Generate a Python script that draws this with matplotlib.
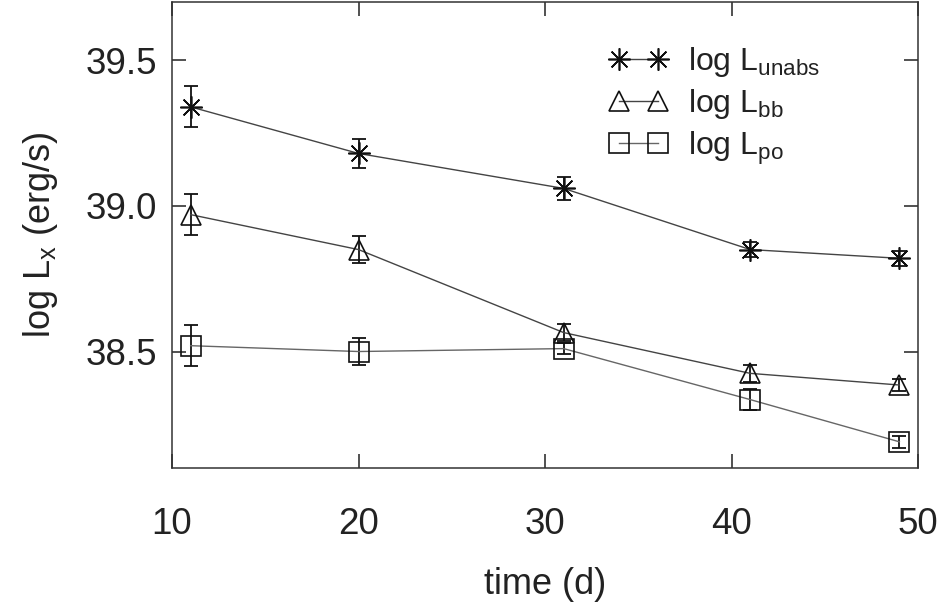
import numpy as np
import matplotlib
matplotlib.use("Agg")
import matplotlib.pyplot as plt

plt.rcParams['font.family'] = ['Liberation Sans', 'DejaVu Sans']
plt.rcParams['mathtext.default'] = 'regular'

# luminosity evolution (log L in erg/s) vs time since outburst
t = [11, 20, 31, 41, 49]
l_unabs = [39.34, 39.18, 39.06, 38.85, 38.82]
e_unabs = [0.07, 0.05, 0.04, 0.025, 0.025]
l_bb = [38.97, 38.85, 38.565, 38.425, 38.385]
e_bb = [0.07, 0.045, 0.03, 0.03, 0.02]
l_po = [38.52, 38.50, 38.51, 38.335, 38.19]
e_po = [0.07, 0.045, 0.02, 0.035, 0.02]

fig = plt.figure(figsize=(9.44, 6.05), dpi=100)
ax = fig.add_axes([0.1822, 0.2264, 0.7903, 0.7703])

series = [
    (l_unabs, e_unabs, (8, 2, 0), 16, r"log L$_{unabs}$", '#444444'),
    (l_bb, e_bb, '^', 14, r"log L$_{bb}$", '#444444'),
    (l_po, e_po, 's', 14, r"log L$_{po}$", '#666666'),
]
for y, e, m, ms, lab, lc in series:
    ax.errorbar(t, y, yerr=e, fmt='none', ecolor='#111111', elinewidth=1.3,
                capsize=5, capthick=1.3, zorder=3)
    ax.plot(t, y, '-', color=lc, lw=1.0, marker=m, ms=ms, mfc='none',
            mec='#111111', mew=1.2, label=lab, zorder=4)

ax.set_xlim(10, 50)
ax.set_ylim(38.1, 39.7)
ax.set_xticks([10, 20, 30, 40, 50])
ax.set_yticks([38.5, 39.0, 39.5])
ax.set_yticklabels(['38.5', '39.0', '39.5'])
ax.tick_params(direction='in', length=10, width=1.1, top=True, right=True,
               labelsize=26.5, colors='#222222')
ax.tick_params(axis='x', pad=28)
ax.tick_params(axis='y', pad=11)
for s in ax.spines.values():
    s.set_linewidth(1.1)
    s.set_color('#333333')

ax.set_xlabel("time (d)", fontsize=26, color='#222222', labelpad=18)
ax.set_ylabel(r"log L$_x$ (erg/s)", fontsize=26, color='#222222', labelpad=18)

leg = ax.legend(loc='upper left', bbox_to_anchor=(0.646, 0.926),
                bbox_transform=fig.transFigure, frameon=False, fontsize=23,
                numpoints=2, handlelength=1.8, handletextpad=0.66,
                borderpad=0, borderaxespad=0, labelspacing=0.26)
for txt in leg.get_texts():
    txt.set_color('#222222')

fig.savefig("out.png", dpi=100)
